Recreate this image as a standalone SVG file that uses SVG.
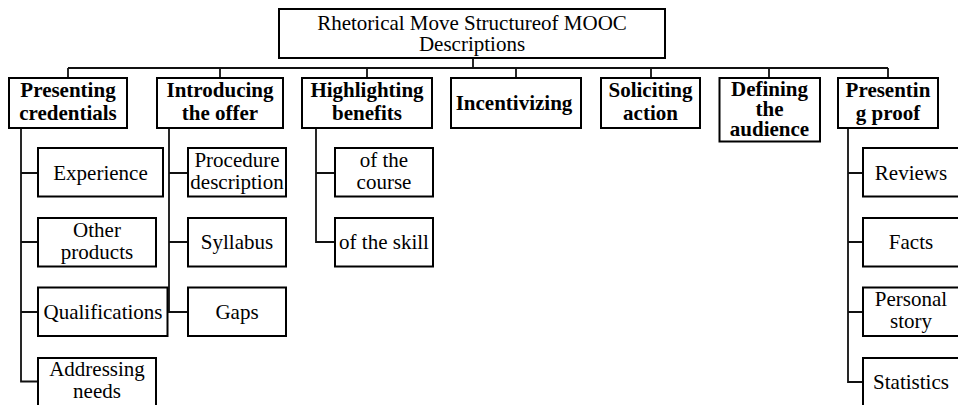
<svg xmlns="http://www.w3.org/2000/svg" width="958" height="405" viewBox="0 0 958 405">
<style>
.box{fill:#fff;stroke:#000;stroke-width:2}
.con{fill:none;stroke:#111;stroke-width:1.8}
text{font-size:21px;fill:#000;text-anchor:middle}
.b{font-weight:bold}
</style>
<rect width="958" height="405" fill="#fff"/>
<g id="connectors">
<path class="con" d="M473,58V68M68,68H888M68,68V78M220,68V78M367,68V78M516,68V78M651,68V78M769,68V78M888,68V78"/>
<path class="con" d="M21,128V381.5H38M21,173H38M21,242H38M21,312H38"/>
<path class="con" d="M169,128V312H188M169,173H188M169,242H188"/>
<path class="con" d="M316,128V242H335M316,173H335"/>
<path class="con" d="M848,128V382H863M848,173H863M848,242H863M848,312H863"/>
</g>
<g font-family="'Liberation Serif', Tinos, 'DejaVu Serif', serif">
<g id="root"><rect class="box" x="279" y="9" width="386" height="49"/><text x="472" y="29.5">Rhetorical Move Structureof MOOC</text><text x="472" y="50.5">Descriptions</text></g>
<g id="presenting-credentials"><rect class="box" x="9" y="78" width="118" height="50"/><text class="b" x="68" y="97">Presenting</text><text class="b" x="68" y="120">credentials</text></g>
<g id="introducing-offer"><rect class="box" x="157" y="78" width="126" height="50"/><text class="b" x="220" y="97">Introducing</text><text class="b" x="220" y="120">the offer</text></g>
<g id="highlighting-benefits"><rect class="box" x="302" y="78" width="130" height="50"/><text class="b" x="367" y="97">Highlighting</text><text class="b" x="367" y="120">benefits</text></g>
<g id="incentivizing"><rect class="box" x="451" y="78" width="130" height="50"/><text class="b" x="514" y="110">Incentivizing</text></g>
<g id="soliciting-action"><rect class="box" x="601" y="78" width="99" height="50"/><text class="b" x="650.5" y="97">Soliciting</text><text class="b" x="650.5" y="120">action</text></g>
<g id="defining-audience"><rect class="box" x="719.5" y="78" width="100.5" height="63.5"/><text class="b" x="769.5" y="95.5">Defining</text><text class="b" x="769.5" y="115.5">the</text><text class="b" x="769.5" y="135.5">audience</text></g>
<g id="presenting-proof"><rect class="box" x="838" y="78" width="100" height="50"/><text class="b" x="888" y="97">Presentin</text><text class="b" x="888" y="120">g proof</text></g>
<g id="experience"><rect class="box" x="38" y="148" width="125" height="48.5"/><text x="100.5" y="179.5">Experience</text></g>
<g id="other-products"><rect class="box" x="38" y="218" width="118" height="48.5"/><text x="97" y="237">Other</text><text x="97" y="258.5">products</text></g>
<g id="qualifications"><rect class="box" x="38" y="287.5" width="129.5" height="48.5"/><text x="103" y="319">Qualifications</text></g>
<g id="addressing-needs"><rect class="box" x="38" y="358" width="118" height="60"/><text x="97" y="376">Addressing</text><text x="97" y="397.5">needs</text></g>
<g id="procedure-description"><rect class="box" x="188" y="148" width="98" height="48.5"/><text x="237" y="167">Procedure</text><text x="237" y="189">description</text></g>
<g id="syllabus"><rect class="box" x="188" y="218" width="98" height="48.5"/><text x="237" y="249">Syllabus</text></g>
<g id="gaps"><rect class="box" x="188" y="287.5" width="98" height="48.5"/><text x="237" y="319">Gaps</text></g>
<g id="of-the-course"><rect class="box" x="335" y="148" width="98" height="48.5"/><text x="384" y="167">of the</text><text x="384" y="189">course</text></g>
<g id="of-the-skill"><rect class="box" x="335" y="218" width="98" height="48.5"/><text x="384" y="249">of the skill</text></g>
<g id="reviews"><rect class="box" x="863" y="148" width="97" height="48.5"/><text x="911" y="179.5">Reviews</text></g>
<g id="facts"><rect class="box" x="863" y="218" width="97" height="48.5"/><text x="911" y="249">Facts</text></g>
<g id="personal-story"><rect class="box" x="863" y="287.5" width="97" height="48.5"/><text x="911" y="306">Personal</text><text x="911" y="327.5">story</text></g>
<g id="statistics"><rect class="box" x="863" y="358" width="97" height="60"/><text x="911" y="389">Statistics</text></g>
</g>
</svg>
